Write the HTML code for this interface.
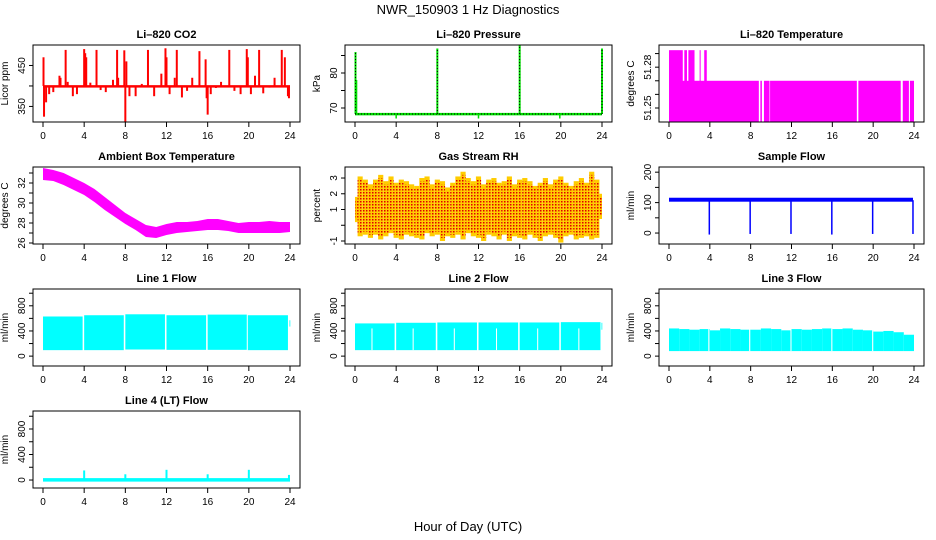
<!DOCTYPE html>
<html><head><meta charset="utf-8"><style>
html,body{margin:0;padding:0;background:#fff}
svg{display:block;font-family:"Liberation Sans",Arial,sans-serif}
</style></head><body>
<svg id="chart" width="936" height="540" viewBox="0 0 936 540">
<defs>
<pattern id="rhdots" width="3" height="3" patternUnits="userSpaceOnUse"><rect x="0" y="0" width="1.5" height="1.5" fill="#e00000"/></pattern>
</defs>
<text x="468" y="14" text-anchor="middle" font-size="13">NWR_150903  1 Hz Diagnostics</text>
<text x="468" y="531" text-anchor="middle" font-size="13">Hour of Day (UTC)</text>
</svg>
<script>
// ---- data ----
const xTicks = [0,4,8,12,16,20,24];
const co2Base = [396,402];
const co2Times = [0.05,0.1,0.3,0.6,1.0,1.6,1.7,2.2,2.4,2.9,3.3,4.0,4.1,4.2,4.6,5.2,5.6,6.1,6.8,7.2,7.3,7.9,8.0,8.1,8.4,9.0,9.6,10.2,10.8,11.5,11.9,12.0,12.3,12.8,13.0,13.5,14.0,14.5,15.2,15.8,15.9,16.0,16.3,16.8,17.3,18.1,18.6,19.2,19.8,19.9,20.2,20.6,21.0,21.4,22.0,22.5,23.2,23.5,23.8,23.9];
const co2Vals = [470,325,360,380,385,425,420,488,410,375,380,490,480,470,408,488,390,385,415,488,420,487,312,460,375,375,405,488,375,430,492,470,380,420,488,372,388,420,485,465,370,330,380,395,410,488,388,380,490,470,380,425,488,382,396,420,488,470,375,370];
const pressBase = [67.9,68.6];
const pressT = [0.05,0.15,4.0,8.0,12.0,16.0,19.9,24.0];
const pressV = [86,78,67,87,67,88,67,87];
const ltHighStart = [0,1.5,1.9,3.0,3.45];
const ltHighEnd = [1.35,1.76,2.5,3.1,3.7];
const ltMainStart = [0,8.95,9.3,9.9,18.55,22.9,23.6];
const ltMainEnd = [8.8,9.1,9.85,18.4,22.7,23.5,24];
const ltLevels = [51.24,51.27,51.2925];
const ambHours = [0,1,2,3,4,5,6,7,8,9,10,11,12,13,14,15,16,17,18,19,20,21,22,23,24];
const ambHi = [33.5,33.3,33.0,32.5,32.0,31.4,30.6,29.8,29.0,28.4,27.8,27.6,27.9,28.1,28.1,28.2,28.4,28.4,28.2,28.0,28.1,28.1,28.2,28.1,28.1];
const ambLo = [32.3,32.2,31.8,31.3,30.8,30.1,29.3,28.6,27.9,27.3,26.6,26.5,26.8,27.0,27.1,27.2,27.3,27.3,27.2,27.0,27.0,27.0,27.0,27.0,27.1];
const rhMax = [1.8,3.1,2.9,2.6,2.9,3.2,2.8,3.1,2.7,2.9,2.8,2.6,2.5,3.0,3.1,2.6,2.9,2.8,2.4,2.7,3.1,3.4,3.0,2.8,3.1,2.6,2.9,3.0,2.7,2.8,3.1,2.6,2.9,3.0,2.8,2.5,2.7,3.0,2.6,2.9,3.1,2.7,2.5,2.8,3.0,2.7,3.4,2.9,2.0];
const rhMin = [0.2,-0.7,-0.6,-0.8,-0.6,-0.9,-0.7,-0.5,-0.8,-0.9,-0.6,-0.7,-0.8,-0.9,-0.5,-0.7,-0.6,-1.0,-0.7,-0.8,-0.6,-0.9,-0.5,-0.7,-0.8,-1.0,-0.6,-0.7,-0.9,-0.6,-1.0,-0.7,-0.8,-0.9,-0.6,-0.8,-1.0,-0.7,-0.6,-0.8,-1.1,-0.7,-0.6,-0.9,-0.8,-0.7,-0.9,-0.8,0.4];
const sfBase = [103,116];
const sfDipT = [3.95,7.95,11.95,15.95,19.95,23.9];
const sfDipV = [-5,-3,-3,-5,-3,-3];
const l1Start = [0.0,4.0,8.0,12.0,16.0,19.9,23.95];
const l1End = [3.85,7.85,11.85,15.85,19.8,23.8,24.0];
const l1Top = [630,650,665,650,660,650,570];
const l1Bot = [95,95,105,100,100,95,470];
const l2Start = [0,4.0,8.0,12.0,16.0,20.0,23.95];
const l2End = [3.85,7.85,11.85,15.85,19.85,23.85,24.0];
const l2Top = [520,530,535,535,535,540,530];
const l2Bot = [95,95,95,95,95,95,420];
const l2Band = 440;
const l2NotchT = [1.6,5.6,9.6,13.7,17.7,21.7];
const l3Top = [440,430,420,430,410,440,430,420,420,440,430,410,430,420,430,440,430,440,420,410,390,400,380,340];
const l3Bot = 80;
const l3GapT = [3.85,7.85,11.9,15.9,19.9];
const l4Base = [-25,30];
const l4T = [4.0,8.0,12.0,16.0,20.0,23.9];
const l4V = [150,90,160,90,160,80];

// ---- helpers ----
const svg = document.getElementById('chart');
const NS = 'http://www.w3.org/2000/svg';
function mk(tag, attrs, parent){
  const e = document.createElementNS(NS, tag);
  for (const k in attrs) e.setAttribute(k, attrs[k]);
  (parent||svg).appendChild(e);
  return e;
}
const colL = [33,345,659], colW = [267,267,265];
const rowT = [45,167,289,411], H = 77;

function panel(c, r, ymin, ymax, yt, yl, title, ylab, name){
  const l = colL[c], w = colW[c], t = rowT[r];
  const g = mk('g', {});
  
  
  const sx = h => l + 10 + h * (w - 20) / 24;
  const sy = v => t + H - (v - ymin) / (ymax - ymin) * H;
  const marks = mk('g', {}, g);
  
  
  return {g, marks, sx, sy, l, w, t, finish(){
    const box = mk('rect', {x:l, y:t, width:w, height:H, fill:'none', stroke:'#000', 'stroke-width':1}, g);
    
    
    const tt = mk('text', {x:l + w/2, y:t - 7, 'text-anchor':'middle', 'font-size':11, 'font-weight':'bold'}, g);
    tt.textContent = title;
    
    
    const xa = mk('g', {}, g);
    
    
    xTicks.forEach(v => {
      const x = sx(v);
      mk('line', {x1:x, x2:x, y1:t+H, y2:t+H+5, stroke:'#000'}, xa);
      const tx = mk('text', {x:x, y:t+H+17, 'text-anchor':'middle', 'font-size':10}, xa);
      tx.textContent = v;
    });
    const ya = mk('g', {}, g);
    
    
    mk('line', {x1:l, x2:l, y1:sy(yt[0]), y2:sy(yt[yt.length-1]), stroke:'#000'}, ya);
    yt.forEach((v,i) => {
      const y = sy(v);
      mk('line', {x1:l-4, x2:l, y1:y, y2:y, stroke:'#000'}, ya);
      if (yl[i] !== '') {
        const tx = mk('text', {x:l-8, y:y, 'text-anchor':'middle', 'font-size':10, transform:`rotate(-90 ${l-8} ${y})`}, ya);
        tx.textContent = yl[i];
      }
    });
    const yt2 = mk('text', {x:l-25, y:t+H/2, 'text-anchor':'middle', 'font-size':10, transform:`rotate(-90 ${l-25} ${t+H/2})`}, g);
    yt2.textContent = ylab;
    
    
  }};
}
function rectV(p, h1, h2, v1, v2, fill){
  const x1 = p.sx(h1), x2 = p.sx(h2), y1 = p.sy(Math.max(v1,v2)), y2 = p.sy(Math.min(v1,v2));
  return mk('rect', {x:x1, y:y1, width:Math.max(0.8, x2-x1), height:Math.max(0.8, y2-y1), fill:fill}, p.marks);
}
function vline(p, h, v1, v2, color, sw, dash){
  const a = {x1:p.sx(h), x2:p.sx(h), y1:p.sy(v1), y2:p.sy(v2), stroke:color, 'stroke-width':sw};
  if (dash) a['stroke-dasharray'] = dash;
  return mk('line', a, p.marks);
}

// ---- Li-820 CO2 ----
let p = panel(0,0,312,500,[350,400,450],['350','','450'],'Li\u2013820 CO2','Licor ppm','co2');
rectV(p,0,24,co2Base[0],co2Base[1],'#ff0000');
co2Times.forEach((t,i) => vline(p,t,400,co2Vals[i],'#ff0000',2));
p.finish();

// ---- Pressure ----
p = panel(1,0,66,88,[70,75,80,85],['70','','80',''],'Li\u2013820 Pressure','kPa','pressure');
rectV(p,0,24,pressBase[0],pressBase[1],'#00dd00');
mk('line',{x1:p.sx(0),x2:p.sx(24),y1:p.sy(68.3),y2:p.sy(68.3),stroke:'#000','stroke-width':1,'stroke-dasharray':'1 2'},p.marks);
pressT.forEach((t,i) => {
  vline(p,t,68.3,pressV[i],'#00dd00',pressV[i]>80?2:1.5);
  if (pressV[i] > 80) vline(p,t,68.3,pressV[i],'#000',1,'1 2');
});
p.finish();

// ---- Li-820 Temperature ----
p = panel(2,0,51.2397,51.2963,[51.25,51.26,51.27,51.28,51.29],['51.25','','','51.28',''],'Li\u2013820 Temperature','degrees C','li-temp');
ltHighStart.forEach((s,i) => rectV(p,s,ltHighEnd[i],ltLevels[0],ltLevels[2],'#ff00ff'));
ltMainStart.forEach((s,i) => rectV(p,s,ltMainEnd[i],ltLevels[0],ltLevels[1],'#ff00ff'));
p.finish();

// ---- Ambient ----
p = panel(0,1,25.9,33.6,[26,27,28,29,30,31,32,33],['26','','28','','30','','32',''],'Ambient Box Temperature','degrees C','ambient');
{
  let pts = ambHours.map((h,i)=>`${p.sx(h)},${p.sy(ambHi[i])}`);
  pts = pts.concat(ambHours.map((h,i)=>`${p.sx(h)},${p.sy(ambLo[i])}`).reverse());
  mk('polygon',{points:pts.join(' '),fill:'#ff00ff'},p.marks);
}
p.finish();

// ---- Gas Stream RH ----
p = panel(1,1,-1.19,3.7,[-1,0,1,2,3],['-1','','1','2','3'],'Gas Stream RH','percent','rh');
rhMax.forEach((v,i) => {
  const h0 = i*0.5 - 0.25, h1 = i*0.5 + 0.25;
  rectV(p,Math.max(0,h0),Math.min(24,h1),rhMin[i],v,'#ffcc00');
  rectV(p,Math.max(0,h0),Math.min(24,h1),rhMin[i]+0.2,v-0.2,'url(#rhdots)');
});
p.finish();

// ---- Sample Flow ----
p = panel(2,1,-36,217,[0,50,100,150,200],['0','','100','','200'],'Sample Flow','ml/min','sample-flow');
rectV(p,0,23.9,sfBase[0],sfBase[1],'#0000ff');
sfDipT.forEach((t,i) => vline(p,t,108,sfDipV[i],'#0000ff',1.5));
p.finish();

// ---- Line flows ----
const lfT = [0,200,400,600,800,1000], lfL = ['0','','400','','800',''];
p = panel(0,2,-157,1067,lfT,lfL,'Line 1 Flow','ml/min','line1-flow');
l1Start.forEach((s,i) => rectV(p,s,l1End[i],l1Bot[i],l1Top[i],'#00ffff'));
p.finish();

p = panel(1,2,-157,1067,lfT,lfL,'Line 2 Flow','ml/min','line2-flow');
l2Start.forEach((s,i) => rectV(p,s,l2End[i],l2Bot[i],l2Top[i],'#00ffff'));
l2NotchT.forEach(t => rectV(p,t,t+0.1,l2Bot[0],l2Band,'#ffffff'));
p.finish();

p = panel(2,2,-157,1067,lfT,lfL,'Line 3 Flow','ml/min','line3-flow');
l3Top.forEach((v,i) => rectV(p,i,i+1,l3Bot,v,'#00ffff'));
l3GapT.forEach(t => rectV(p,t,t+0.1,l3Bot,500,'#ffffff'));
p.finish();

p = panel(0,3,-125,1082,lfT,lfL,'Line 4 (LT) Flow','ml/min','line4-flow');
rectV(p,0,24,l4Base[0],l4Base[1],'#00ffff');
l4T.forEach((t,i) => vline(p,t,0,l4V[i],'#00ffff',2));
p.finish();
</script>
</body></html>
